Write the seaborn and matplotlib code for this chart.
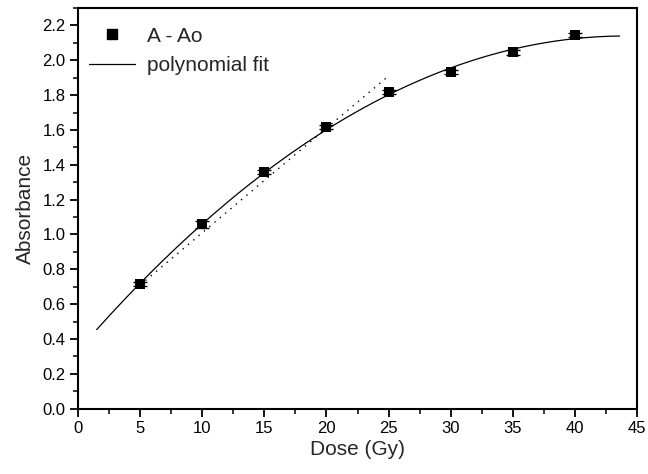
import numpy as np
import matplotlib
matplotlib.use("Agg")
import matplotlib.pyplot as plt
import seaborn as sns
from matplotlib.ticker import MultipleLocator
from matplotlib.lines import Line2D

# Data
dose = [5, 10, 15, 20, 25, 30, 35, 40]
absorbance = [0.715, 1.058, 1.358, 1.615, 1.816, 1.931, 2.045, 2.143]
abs_err = [0.012, 0.02, 0.012, 0.012, 0.012, 0.012, 0.012, 0.012]
fit_range = [1.5, 43.6]
fit_degree = 2
linear_x = [5, 25]
linear_y = [0.71, 1.91]

sns.set_style("ticks")
plt.rcParams['font.family'] = ['Liberation Sans', 'DejaVu Sans']

fig = plt.figure(figsize=(6.48, 4.74), dpi=100)
ax = fig.add_axes([0.1204, 0.1378, 0.8626, 0.8453])

coef = np.polyfit(dose, absorbance, fit_degree)
xf = np.linspace(fit_range[0], fit_range[1], 200)
yf = np.polyval(coef, xf)

sns.lineplot(x=xf, y=yf, ax=ax, color='black', linewidth=0.9, sort=False)
sns.lineplot(x=linear_x, y=linear_y, ax=ax, color='black', linewidth=1.0,
             linestyle=(0, (1, 4)), sort=False)
ax.errorbar(dose, absorbance, yerr=abs_err, fmt='none', ecolor='black',
            elinewidth=1.0, capsize=5, capthick=1.0)
sns.scatterplot(x=dose, y=absorbance, ax=ax, marker='s', s=55, color='black',
                edgecolor='black', linewidth=0, zorder=5)

ax.set_xlim(0, 45)
ax.set_ylim(0, 2.3)
ax.xaxis.set_major_locator(MultipleLocator(5))
ax.xaxis.set_minor_locator(MultipleLocator(2.5))
ax.yaxis.set_minor_locator(MultipleLocator(0.1))
ax.set_yticks(np.arange(0, 2.21, 0.2))
ax.set_yticklabels([f"{v:.1f}" for v in np.arange(0, 2.21, 0.2)])

for s in ax.spines.values():
    s.set_linewidth(1.5)
    s.set_color('black')
ax.tick_params(which='major', direction='out', length=6, width=1.3,
               labelsize=12, colors='black', pad=3)
ax.tick_params(which='minor', direction='out', length=3.5, width=1.3)

ax.set_xlabel("Dose (Gy)", fontsize=15, labelpad=3)
ax.set_ylabel("Absorbance", fontsize=15, labelpad=5)

handles = [
    Line2D([], [], marker='s', color='black', linestyle='none', markersize=7),
    Line2D([], [], color='black', linewidth=0.9),
]
ax.legend(handles, ["A - Ao", "polynomial fit"], loc='upper left',
          bbox_to_anchor=(-0.0143, 1.0),
          frameon=False, fontsize=15, handlelength=2.2, labelspacing=0.5,
          borderaxespad=0.2, handletextpad=0.6, borderpad=0.7)

fig.savefig("out.png", dpi=100)
